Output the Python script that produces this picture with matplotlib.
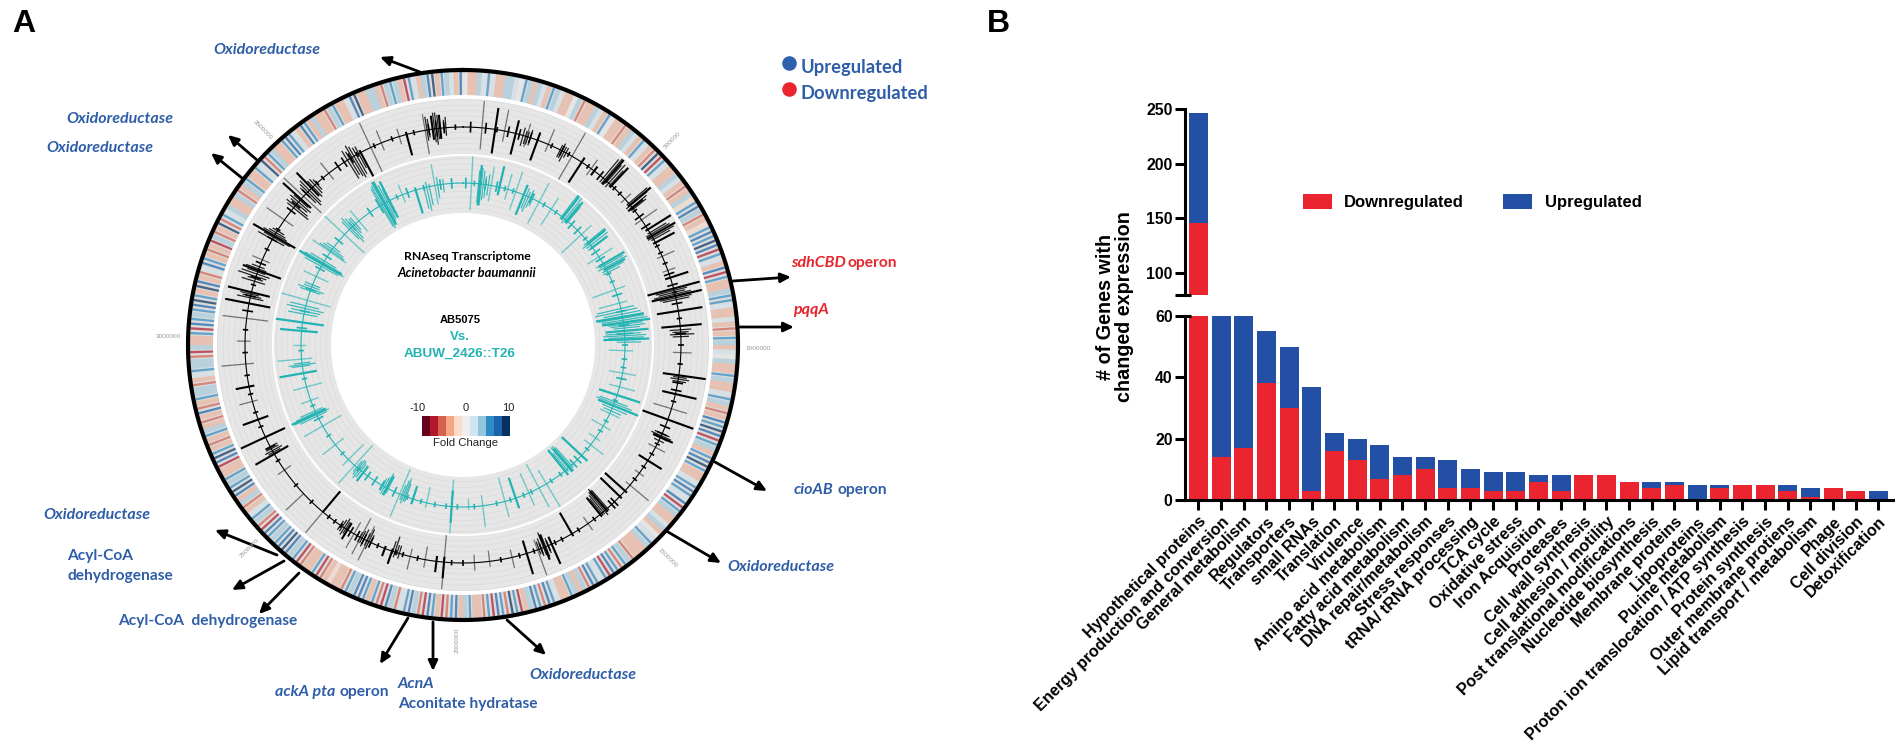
import numpy as np
import matplotlib
matplotlib.use('Agg')
import matplotlib.pyplot as plt

W, H = 1904, 754

# panel B data
categories = ['Hypothetical proteins', 'Energy production and conversion', 'General metabolism',
              'Regulators', 'Transporters', 'small RNAs', 'Translation', 'Virulence',
              'Amino acid metabolism', 'Fatty acid metabolism', 'DNA repair/metabolism',
              'Stress responses', 'tRNA/ tRNA processing', 'TCA cycle', 'Oxidative stress',
              'Iron Acquisition', 'Proteases', 'Cell wall synthesis', 'Cell adhesion / motility',
              'Post translational modifications', 'Nucleotide biosynthesis', 'Membrane proteins',
              'Lipoproteins', 'Purine metabolism', 'Proton ion translocation / ATP synthesis',
              'Protein synthesis', 'Outer membrane protiens', 'Lipid transport / metabolism',
              'Phage', 'Cell division', 'Detoxification']
downregulated = [146, 14, 17, 38, 30, 3, 16, 13, 7, 8, 10, 4, 4, 3, 3, 6, 3, 8, 8, 6, 4, 5, 0, 4, 5, 5, 3, 1, 4, 3, 0]
upregulated = [100, 46, 43, 17, 20, 34, 6, 7, 11, 6, 4, 9, 6, 6, 6, 2, 5, 0, 0, 0, 2, 1, 5, 1, 0, 0, 2, 3, 0, 0, 3]

# panel A data, stripes every 1.5 degrees clockwise from the top
heat_rows = [
    [0, -2, -2, 2, 1, 3, 1, -2, -2, 2, 2, 1, 0, 3, 2, -2, 2, 1, -2, 3],
    [2, 1, -2, -2, 0, 2, -3, -2, -2, 2, 1, -2, 3, 0, -2, -2, -3, -2, 2, 1],
    [-2, 3, 1, -2, -3, 5, -4, 3, 1, -2, -2, 2, 1, -2, -3, -2, 2, -1, 3, 4],
    [2, -3, -2, -1, 3, 4, 3, 5, 4, -4, 3, 1, -2, 4, -4, 3, -2, -2, 2, 3],
    [3, 1, -2, -2, 1, -2, -3, -2, 3, 2, -2, 1, 0, 2, -2, -2, 3, 2, -2, -2],
    [1, 3, 2, -2, -3, -2, 4, 3, 5, 4, -4, 3, 2, -2, 3, 4, 5, 3, -2, -2],
    [1, 3, 4, 3, 1, 4, -4, 3, 2, -2, -2, 1, 2, -2, 0, 1, 3, 2, -2, -2],
    [-2, -3, 2, 3, -3, 3, 4, -4, 3, 1, 3, 4, -3, 2, -2, 2, 3, -2, -2, 1],
    [3, 4, -3, 3, 4, 2, -2, -4, 3, 5, -3, 3, 4, -4, 3, -3, -2, -2, 3, 2],
    [-2, 4, 3, -3, -4, -2, 3, 4, -4, -3, 2, 4, 3, 1, -3, 2, 4, -4, -3, 3],
    [-2, 3, 4, 4, 2, 3, -3, -2, -2, -1, -2, -3, -4, 3, -2, -2, -3, -4, 3, 2],
    [4, 5, 4, 3, 2, 3, 4, -4, -3, 2, 3, 1, -2, -3, 2, -2, 4, 5, 3, 2],
    [3, -2, -2, -4, 4, 5, 3, -2, -3, -2, 3, 2, -2, -3, -2, 4, -3, -2, 3, 2],
    [2, -3, -2, 1, 3, 2, 2, -3, -4, 2, -2, -2, 3, -4, 4, 3, 2, 3, 4, 5],
    [3, -2, 5, 4, -2, -3, 1, 4, 3, -2, -3, -2, -4, 2, -3, -2, 5, -3, 3, 1],
    [2, -2, -2, 2, -3, -2, 2, 3, -2, -2, 3, 1, 5, -3, 3, 2, -2, -2, 3, 4],
    [3, 1, -2, 4, 3, -2, 2, -2, -2, -3, 2, 3, -2, -2, 1, 4, 5, -2, -2, 2],
    [2, -2, -3, 2, 3, 2, -2, -4, 3, 1, -2, 2, 4, 5, -2, 3, 2, 1, -2, 4],
]

black_strong_deg = [8.5, 14, 20, 33, 37, 41, 43, 50, 51, 58, 60, 62, 72, 75, 77, 81, 85, 98, 103, 110, 115, 122, 132, 134, 139, 141, 150, 156, 158, 163, 185, 187, 199, 201, 212, 220, 240, 245, 250, 259, 281, 284, 290, 300, 312, 316, 332, 345, 352, 354]
black_strong_up = [8, 5, 3, 2, 2, 10, 9, 10, 5, 10, 10, 8, 7, 10, 10, 9, 8, 10, 8, 10, 5, 6, 1, 1, 1, 1, 1, 8, 5, 8, 6, 4, 5, 3, 4, 0, 8, 10, 6, 5, 9, 9, 6, 9, 9, 8, 1, 1, 5, 5]
black_strong_down = [9, 8, 8, 9, 2, 2, 1, 1, 2, 1, 2, 1, 2, 10, 9, 8, 7, 6, 5, 10, 3, 4, 10, 10, 9, 8, 9, 3, 5, 5, 2, 2, 1, 1, 3, 10, 6, 8, 4, 2, 8, 7, 9, 9, 5, 4, 10, 8, 4, 4]

black_faint_deg = [5, 11, 17, 23, 30, 36, 48, 55, 66, 70, 92, 107, 118, 126, 130, 145, 160, 167, 173, 177, 185, 190, 194, 206, 208, 210, 220, 227, 235, 255, 265, 271, 277, 293, 305, 313, 322, 335, 338, 343, 350]
black_faint_up = [10, 8, 5, 6, 10, 4, 3, 7, 5, 3, 4, 6, 4, 2, 9, 3, 10, 4, 2, 3, 10, 3, 5, 8, 7, 6, 10, 9, 3, 5, 9, 3, 9, 4, 8, 10, 5, 10, 5, 3, 6]
black_faint_down = [8, 4, 4, 3, 10, 3, 2, 3, 2, 2, 3, 7, 3, 2, 2, 3, 4, 3, 4, 3, 10, 5, 3, 6, 8, 5, 0, 0, 3, 2, 3, 2, 8, 3, 4, 9, 3, 10, 3, 3, 9]

black_short_deg = [2, 6, 9, 12, 15, 18, 24, 27, 29, 35, 39, 44, 46, 52, 54, 57, 63, 65, 68, 71, 74, 76, 79, 83, 87, 90, 95, 100, 102, 105, 112, 114, 117, 120, 124, 128, 136, 137, 143, 148, 153, 155, 157, 159, 161, 165, 170, 180, 183, 192, 196, 198, 203, 205, 207, 209, 211, 214, 216, 218, 224, 230, 238, 242, 248, 252, 257, 262, 268, 274, 279, 283, 286, 288, 292, 296, 299, 302, 308, 310, 314, 318, 320, 325, 327, 329, 331, 336, 341, 347, 351, 353, 355, 358]
black_short_val = [2, 2, 1, 2, 2, 2, 1, 2, 1, 1, 2, 1, 1, 1, 2, 2, 1, 1, 1, 2, 2, 1, 2, 1, 2, 1, 1, 2, 2, 1, 2, 2, 1, 1, 1, 1, 2, 2, 1, 1, 1, 1, 2, 2, 1, 1, 1, 1, 1, 1, 1, 1, 1, 2, 2, 2, 2, 1, 1, 1, 1, 1, 1, 2, 1, 1, 1, 1, 1, 1, 2, 2, 1, 2, 2, 1, 2, 1, 2, 2, 2, 1, 1, 2, 2, 2, 1, 1, 1, 1, 2, 3, 2, 1]

black_cluster_deg = [350.5, 351, 352.5, 353, 353.5, 355, 355.5, 328, 328.7, 329.4, 330, 330.7, 331.4, 314, 314.6, 315.2, 316.5, 317.2, 317.8, 309, 309.6, 310.4, 311, 311.6, 299, 299.6, 300.5, 301, 301.6, 287, 287.7, 288.3, 289, 289.6, 290.4, 291, 282.5, 283, 283.5, 240.5, 241, 241.6, 242.2, 212.5, 213, 213.6, 214.2, 205, 205.6, 206.2, 207, 207.6, 208.2, 197, 197.6, 198.2, 198.8, 157, 157.7, 158.3, 159, 159.6, 138.5, 139, 139.5, 140, 140.5, 141, 114, 114.6, 115.2, 116, 98.5, 99, 99.6, 86, 86.6, 87.2, 87.8, 75.5, 76, 76.5, 77, 77.5, 78, 59, 59.5, 60.5, 61, 49.5, 50.2, 50.8, 51.4, 40, 40.6, 41.4, 42, 42.6, 26.5, 27, 27.6, 28.2, 16, 16.7, 17.3, 18]
black_cluster_up = [5, 4, 6, 6, 5, 3, 4, 4, 3, 5, 4, 3, 3, 3, 4, 5, 3, 3, 2, 3, 4, 3, 4, 3, 6, 4, 5, 3, 2, 5, 3, 7, 6, 4, 5, 3, 5, 3, 4, 2, 3, 2, 2, 2, 3, 2, 2, 2, 3, 2, 3, 2, 2, 2, 1, 2, 1, 3, 4, 3, 3, 2, 1, 1, 2, 1, 1, 1, 3, 4, 3, 2, 3, 4, 3, 4, 3, 5, 3, 5, 4, 6, 7, 6, 5, 7, 8, 9, 7, 9, 8, 7, 6, 9, 10, 8, 9, 7, 2, 3, 2, 2, 3, 2, 2, 3]
black_cluster_down = [4, 3, 5, 6, 4, 2, 3, 8, 7, 8, 9, 8, 6, 5, 7, 6, 5, 4, 3, 7, 6, 5, 6, 4, 5, 7, 5, 4, 3, 4, 3, 4, 5, 3, 3, 2, 5, 4, 3, 3, 4, 3, 3, 3, 4, 3, 2, 3, 5, 3, 4, 3, 2, 3, 3, 6, 4, 3, 5, 6, 4, 3, 9, 10, 9, 8, 7, 6, 3, 4, 3, 2, 2, 3, 2, 4, 3, 4, 3, 7, 6, 8, 7, 6, 5, 1, 2, 2, 1, 1, 2, 1, 1, 2, 2, 1, 2, 1, 3, 3, 4, 2, 4, 3, 3, 3]

teal_strong_deg = [6, 13, 22, 38, 40, 51, 53, 60, 62, 80, 82, 85, 88, 108, 112, 133, 139, 141, 161, 184, 198, 208, 218, 245, 260, 275, 278, 300, 331, 333, 343]
teal_strong_up = [7, 8, 4, 10, 9, 8, 7, 9, 8, 8, 10, 9, 9, 9, 10, 3, 2, 2, 4, 6, 2, 3, 4, 10, 9, 8, 10, 10, 9, 8, 1]
teal_strong_down = [8, 3, 8, 1, 1, 1, 1, 2, 1, 10, 8, 7, 8, 7, 6, 10, 9, 10, 8, 6, 5, 5, 3, 4, 5, 6, 8, 8, 9, 7, 9]

teal_faint_deg = [3, 10, 16, 19, 28, 33, 47, 57, 70, 75, 92, 100, 105, 115, 120, 125, 128, 149, 152, 156, 165, 173, 178, 184, 193, 203, 222, 225, 232, 240, 250, 255, 265, 270, 286, 295, 305, 313, 320, 338, 350]
teal_faint_up = [10, 7, 6, 8, 8, 5, 5, 6, 4, 3, 3, 5, 6, 4, 3, 2, 6, 10, 8, 5, 6, 8, 1, 10, 2, 9, 9, 3, 6, 8, 4, 5, 9, 3, 10, 5, 8, 10, 5, 4, 8]
teal_faint_down = [10, 6, 4, 7, 9, 7, 10, 5, 9, 8, 6, 5, 4, 4, 5, 3, 3, 6, 10, 8, 9, 4, 3, 10, 6, 10, 10, 8, 4, 8, 3, 6, 4, 2, 9, 5, 7, 10, 5, 3, 7]

teal_short_deg = [1, 4, 8, 12, 15, 18, 25, 30, 35, 42, 45, 49, 55, 58, 64, 67, 72, 78, 83, 86, 90, 95, 98, 102, 110, 118, 122, 130, 135, 137, 143, 147, 155, 158, 163, 168, 176, 182, 186, 190, 195, 200, 205, 210, 213, 216, 220, 228, 236, 243, 248, 258, 268, 276, 282, 290, 298, 303, 310, 317, 325, 329, 336, 340, 346, 352, 356]
teal_short_val = [2, 1, 2, 2, 1, 1, 2, 1, 1, 2, 2, 1, 2, 2, 1, 1, 2, 2, 2, 3, 1, 1, 1, 2, 1, 1, 1, 1, 2, 2, 1, 1, 1, 1, 1, 1, 1, 1, 1, 1, 1, 1, 2, 2, 2, 2, 1, 1, 1, 2, 1, 1, 1, 2, 2, 2, 2, 2, 2, 2, 2, 3, 1, 2, 1, 2, 2]

teal_cluster_deg = [329.5, 330, 330.6, 331.4, 332, 332.6, 315.5, 316.2, 317, 317.8, 318.5, 305.5, 306.2, 307, 299, 299.7, 300.5, 301.2, 289.5, 290.2, 291, 291.8, 281, 282, 283, 284, 262.5, 263, 263.6, 244, 244.6, 245.4, 246, 219, 219.7, 220.4, 221, 207.5, 208.3, 209, 209.7, 200.5, 201, 201.6, 202.2, 138, 138.6, 139.4, 140.2, 141, 110.5, 111.2, 112, 113, 114, 77, 78, 79, 80.5, 81.2, 82.6, 83.3, 84, 86, 86.7, 87.4, 88.2, 89, 60, 60.7, 61.4, 62.6, 63.4, 50.5, 51.2, 52, 53, 37.5, 38.2, 39, 39.6, 40.4, 23, 23.8, 24.6, 25.4, 5.5, 6.5, 7.2, 8, 9, 346, 347, 348, 351, 353]
teal_cluster_up = [7, 8, 9, 9, 7, 5, 4, 5, 4, 3, 3, 5, 4, 3, 7, 8, 8, 6, 4, 5, 3, 3, 6, 5, 7, 6, 4, 5, 3, 7, 9, 8, 6, 3, 4, 3, 2, 2, 3, 3, 2, 2, 2, 3, 2, 1, 2, 2, 1, 1, 5, 7, 8, 6, 4, 5, 6, 7, 8, 9, 7, 8, 6, 6, 8, 7, 5, 6, 9, 8, 9, 7, 5, 8, 7, 8, 6, 10, 9, 10, 8, 7, 3, 2, 3, 2, 5, 6, 5, 3, 4, 1, 2, 1, 3, 2]
teal_cluster_down = [9, 10, 9, 8, 7, 5, 5, 7, 6, 4, 3, 6, 5, 3, 7, 9, 8, 5, 4, 5, 3, 3, 5, 6, 7, 5, 3, 5, 3, 4, 5, 4, 3, 3, 4, 4, 3, 5, 6, 4, 3, 5, 7, 6, 4, 9, 10, 10, 8, 7, 6, 7, 6, 4, 3, 9, 10, 7, 9, 8, 6, 5, 4, 7, 8, 6, 5, 3, 3, 2, 3, 2, 2, 2, 3, 2, 2, 1, 1, 2, 1, 1, 5, 6, 4, 3, 7, 8, 6, 5, 4, 8, 9, 7, 5, 3]

legend_colors = ['#67001f', '#b2182b', '#d6604d', '#f4a582', '#fddbc7', '#efefef',
                 '#d1e5f0', '#92c5de', '#2f8bc4', '#1a64ac', '#053061']
fold_change_ticks = [-10, 0, 10]

BLUE_TXT = '#2f5ea8'
RED_TXT = '#e5262c'
TEAL = '#22b3b3'
UI_FONT = ['Lato', 'DejaVu Sans']
ARIAL = ['Liberation Sans', 'DejaVu Sans']


def rect(x0, y0, x1, y1):
    # pixel box (y down) to figure fractions
    return [x0 / W, 1 - y1 / H, (x1 - x0) / W, (y1 - y0) / H]


fig = plt.figure(figsize=(W / 100, H / 100), dpi=100, facecolor='white')

# panel A: polar axes where one radial unit is one pixel
cx, cy, rmax = 463, 345, 285
pol = fig.add_axes(rect(cx - rmax, cy - rmax, cx + rmax, cy + rmax), projection='polar')
pol.set_theta_zero_location('N')
pol.set_theta_direction(-1)
pol.set_rlim(0, rmax)
pol.axis('off')

heat = [v for row in heat_rows for v in row]
step = 360 / len(heat)
pol.bar(0, 23, width=2 * np.pi, bottom=250, color='#dcdcdc', linewidth=0)
for i, v in enumerate(heat):
    # the stronger a stripe is, the narrower and more opaque it gets
    strong = abs(v) >= 3
    pol.bar(np.radians((i + 0.5) * step), 23, width=np.radians(step * (0.5 if strong else 1.0)), bottom=250,
            color=legend_colors[v + 5], alpha=0.7 if strong else 0.48, linewidth=0)

circle = np.linspace(0, 2 * np.pi, 720)
pol.plot(circle, np.full(720, 275), color='black', lw=3)
for r0, r1 in [(191, 246), (132, 189)]:
    pol.bar(0, r1 - r0, width=2 * np.pi, bottom=r0, color='#e6e6e6', linewidth=0)
    for r in np.arange(r0 + 5, r1, 5.5):
        pol.plot(circle, np.full(720, r), color='#d6d6d6', lw=0.35)


def draw_spikes(deg, up, down, base, color, lw, alpha):
    unit = 2.7
    for d, u, n in zip(deg, up, down):
        t = np.radians(d)
        pol.plot([t, t], [base - n * unit, base + u * unit], color=color, lw=lw, alpha=alpha,
                 solid_capstyle='butt')


pol.plot(circle, np.full(720, 218), color='black', lw=0.8)
draw_spikes(black_faint_deg, black_faint_up, black_faint_down, 218, 'black', 0.9, 0.5)
draw_spikes(black_strong_deg, black_strong_up, black_strong_down, 218, 'black', 1.5, 1)
draw_spikes(black_cluster_deg, black_cluster_up, black_cluster_down, 218, 'black', 0.9, 0.85)
draw_spikes(black_short_deg, black_short_val, black_short_val, 218, 'black', 1.2, 1)

pol.plot(circle, np.full(720, 162), color=TEAL, lw=0.8)
draw_spikes(teal_faint_deg, teal_faint_up, teal_faint_down, 162, TEAL, 1.0, 0.6)
draw_spikes(teal_strong_deg, teal_strong_up, teal_strong_down, 162, TEAL, 1.6, 1)
draw_spikes(teal_cluster_deg, teal_cluster_up, teal_cluster_down, 162, TEAL, 0.9, 0.85)
draw_spikes(teal_short_deg, teal_short_val, teal_short_val, 162, TEAL, 1.2, 1)

# overlay in pixel coordinates for the annotations around the ring
ov = fig.add_axes([0, 0, 1, 1], facecolor='none')
ov.set_xlim(0, W)
ov.set_ylim(H, 0)
ov.axis('off')

arrows = [((420, 72), (380, 57)), ((257, 160), (228, 135)), ((242, 178), (211, 153)),
          ((733, 281), (791, 277)), ((740, 327), (794, 327)), ((715, 462), (767, 491)),
          ((668, 532), (721, 563)), ((507, 620), (546, 655)), ((433, 622), (433, 671)),
          ((408, 618), (380, 664)), ((299, 573), (259, 614)), ((284, 561), (232, 590)),
          ((277, 555), (215, 530))]
for tail, head in arrows:
    ov.annotate('', xy=head, xytext=tail,
                arrowprops=dict(arrowstyle='-|>,head_width=0.28,head_length=0.6', color='black',
                                lw=2, shrinkA=0, shrinkB=0))


def label(x, y, s, color=BLUE_TXT, italic=True, size=11.5):
    ov.text(x, y, s, color=color, family=UI_FONT, fontsize=size, fontweight='bold',
            fontstyle='italic' if italic else 'normal', ha='left', va='center')


for x, y in [(213, 50), (66, 119), (46, 148), (43, 515), (529, 675), (727, 567)]:
    label(x, y, 'Oxidoreductase')
label(67, 556, 'Acyl-CoA', italic=False, size=11.2)
label(67, 576, 'dehydrogenase', italic=False, size=11.2)
label(118, 621, 'Acyl-CoA  dehydrogenase', italic=False, size=11.2)
label(275, 692, 'ackA pta')
label(339, 692, 'operon', italic=False, size=11.2)
label(398, 684, 'AcnA')
label(398, 704, 'Aconitate hydratase', italic=False, size=11.2)
label(794, 490, 'cioAB')
label(837, 490, 'operon', italic=False, size=11.2)
label(791, 263, 'sdhCBD', color=RED_TXT)
label(847, 263, 'operon', color=RED_TXT, italic=False, size=11.2)
label(793, 310, 'pqqA', color=RED_TXT)

ov.plot([789], [63], 'o', ms=10.5, color='#2f62ad', mec='none')
ov.plot([789], [89], 'o', ms=10.5, color='#e9262e', mec='none')
label(801, 67, 'Upregulated', italic=False, size=13.2)
label(801, 93, 'Downregulated', italic=False, size=13.2)

ov.text(467, 257, 'RNAseq Transcriptome', family=UI_FONT, fontsize=8.8, fontweight='bold', ha='center', va='center')
ov.text(467, 273, 'Acinetobacter baumannii', family=UI_FONT, fontsize=9.4, fontweight='bold', fontstyle='italic', ha='center', va='center')
ov.text(460, 320, 'AB5075', family=ARIAL, fontsize=8, fontweight='bold', ha='center', va='center')
ov.text(460, 337, 'Vs.', family=ARIAL, fontsize=9.5, fontweight='bold', color=TEAL, ha='center', va='center')
ov.text(460, 354, 'ABUW_2426::T26', family=ARIAL, fontsize=9.7, fontweight='bold', color=TEAL, ha='center', va='center')

# fold change colour key
key_edges = np.linspace(422, 510, len(legend_colors) + 1)
for i, c in enumerate(legend_colors):
    ov.fill_between(key_edges[i:i + 2], 416, 436, color=c, linewidth=0)
for v, x in zip(fold_change_ticks, [418, 466, 508]):
    ov.text(x, 408, str(v), family=ARIAL, fontsize=8, ha='center', va='center', color='#222222')
ov.text(466, 443, 'Fold Change', family=ARIAL, fontsize=8.2, ha='center', va='center', color='#222222')

# small coordinate labels on the ring
coords = [('1000000', 758, 349, 0), ('3000000', 168, 337, 0), ('2000000', 457, 640, 90),
          ('500000', 672, 140, 45), ('1500000', 668, 558, -45), ('2500000', 250, 548, 45),
          ('3500000', 263, 130, -45)]
for s, x, y, rot in coords:
    ov.text(x, y, s, family=ARIAL, fontsize=4.6, color='#999999', rotation=rot, ha='center', va='center')

ov.text(12, 24, 'A', family=ARIAL, fontsize=23, fontweight='bold', ha='left', va='center')
ov.text(987, 24, 'B', family=ARIAL, fontsize=23, fontweight='bold', ha='left', va='center')

# panel B: stacked bars with a broken y axis
x = np.arange(len(categories))
down = np.array(downregulated)
up = np.array(upregulated)
xlim = (-0.595, 30.64)
RED = '#ea2530'
NAVY = '#2350a5'

low = fig.add_axes(rect(1185, 316, 1893, 500))
top = fig.add_axes(rect(1185, 109, 1893, 295))
for a in (low, top):
    a.bar(x, down, width=0.84, color=RED, linewidth=0)
    a.bar(x, up, width=0.84, bottom=down, color=NAVY, linewidth=0)
    a.set_xlim(*xlim)
    a.patch.set_alpha(0)
    for side in ('top', 'right'):
        a.spines[side].set_visible(False)
    a.spines['left'].set_linewidth(2.2)
    a.spines['bottom'].set_linewidth(2.2)
    a.tick_params(axis='y', length=7.5, width=2.2, pad=1.5)

low.set_ylim(0, 60)
low.set_yticks([0, 20, 40, 60])
low.set_yticklabels(['0', '20', '40', '60'], family=ARIAL, fontsize=11.3, fontweight='bold')
low.set_xticks(x)
low.set_xticklabels(categories, family=ARIAL, fontsize=11.6, fontweight='bold', rotation=45,
                    ha='right', va='top', rotation_mode='anchor')
low.tick_params(axis='x', length=7, width=2.2, pad=3)
low.hlines(60, xlim[0], xlim[0] + 0.27, color='black', lw=2.2, clip_on=False)

top.set_ylim(80, 250)
top.set_yticks([80, 100, 150, 200, 250])
top.set_yticklabels(['', '100', '150', '200', '250'], family=ARIAL, fontsize=11.3, fontweight='bold')
top.set_xticks([])
top.spines['bottom'].set_visible(False)
top.hlines(80, xlim[0], xlim[0] + 0.27, color='black', lw=2.2, clip_on=False)

ov.text(1115, 307, '# of Genes with\nchanged expression', family=ARIAL, fontsize=14.2, fontweight='bold',
        rotation=90, ha='center', va='center', linespacing=1.05)

# legend of panel B
ov.fill_between([1303, 1332], 194, 209, color=RED, linewidth=0)
ov.fill_between([1503, 1532], 194, 209, color=NAVY, linewidth=0)
ov.text(1344, 202, 'Downregulated', family=ARIAL, fontsize=12, fontweight='bold', va='center')
ov.text(1545, 202, 'Upregulated', family=ARIAL, fontsize=12, fontweight='bold', va='center')

fig.savefig('out.png', dpi=100, facecolor='white')
